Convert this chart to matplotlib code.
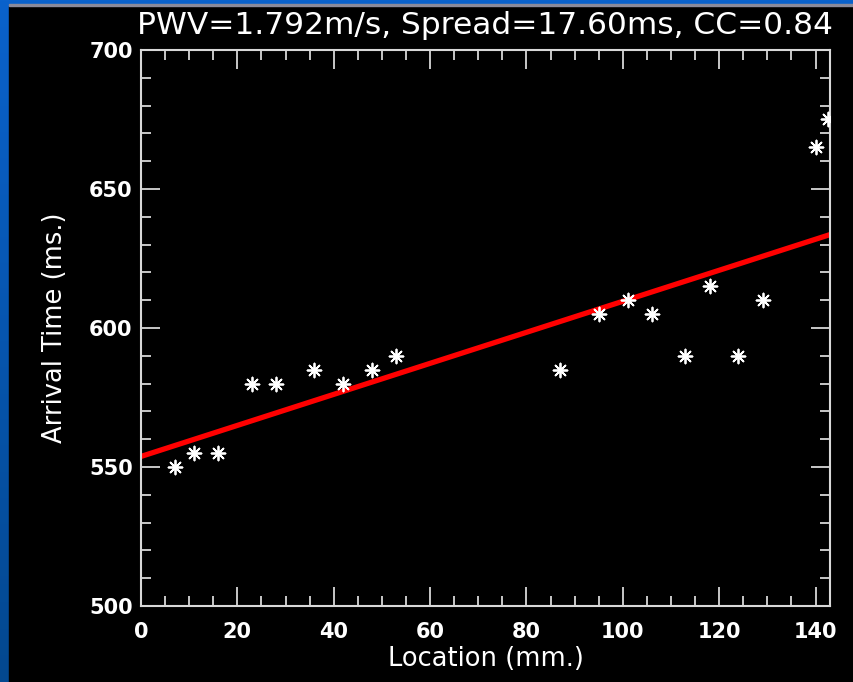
import numpy as np
import matplotlib
matplotlib.use("Agg")
import matplotlib.pyplot as plt
from matplotlib.patches import Rectangle
from matplotlib.ticker import MultipleLocator
from matplotlib.colors import LinearSegmentedColormap

# Data
location_mm = [7, 11, 16, 23, 28, 36, 42, 48, 53, 87, 95, 101, 106, 113, 118, 124, 129, 140, 142.5]
arrival_ms = [550, 555, 555, 580, 580, 585, 580, 585, 590, 585, 605, 610, 605, 590, 615, 590, 610, 665, 675]
fit_x = [0, 143]
fit_y = [553.8, 633.6]
title_text = "PWV=1.792m/s, Spread=17.60ms, CC=0.84"
xlabel_text = "Location (mm.)"
ylabel_text = "Arrival Time (ms.)"

W, H = 854, 682
fig = plt.figure(figsize=(W / 100, H / 100), dpi=100)
fig.patch.set_facecolor("#0a58b8")

# background gradient (slide) + black panel
bg = fig.add_axes([0, 0, 1, 1], zorder=-10)
grad = np.linspace(0, 1, 256).reshape(-1, 1)
cmap = LinearSegmentedColormap.from_list("b", ["#0a62cc", "#034890"])
bg.imshow(grad, aspect="auto", cmap=cmap, extent=[0, 1, 0, 1], origin="upper")
bg.add_patch(Rectangle((9 / W, 0), 1, 1 - 6 / H, color="black", transform=bg.transAxes))
bg.add_patch(Rectangle((9 / W, 1 - 6 / H), 1, 2 / H, color="#8a8a9a", transform=bg.transAxes))
bg.set_axis_off()

left, right, top, bottom = 141, 830, 50, 606
ax = fig.add_axes([left / W, 1 - bottom / H, (right - left) / W, (bottom - top) / H])
ax.set_facecolor("black")

ax.plot(fit_x, fit_y, color="#ff0000", lw=3.8, solid_capstyle="butt", zorder=2, clip_on=True)
ax.scatter(location_mm, arrival_ms, marker=(8, 2, 0), s=100, color="white", linewidths=1.3, zorder=3, clip_on=True)

ax.set_xlim(0, 143)
ax.set_ylim(500, 700)
ax.xaxis.set_major_locator(MultipleLocator(20))
ax.xaxis.set_minor_locator(MultipleLocator(5))
ax.yaxis.set_major_locator(MultipleLocator(50))
ax.yaxis.set_minor_locator(MultipleLocator(10))
ax.tick_params(which="both", direction="in", top=True, right=True, colors="#d8d8d8")
ax.tick_params(which="major", length=14, width=1.3, labelsize=15, labelcolor="white")
ax.tick_params(axis="x", which="major", pad=11.5)
ax.tick_params(axis="y", which="major", pad=6)
ax.tick_params(which="minor", length=7, width=1.3)
for lab in ax.get_xticklabels() + ax.get_yticklabels():
    lab.set_fontweight("bold")
for s in ax.spines.values():
    s.set_color("#d8d8d8")
    s.set_linewidth(1.5)

ax.set_xlabel(xlabel_text, color="white", fontsize=18.5)
ax.set_ylabel(ylabel_text, color="white", fontsize=18.5)
ax.xaxis.set_label_coords(0.5, (bottom - 646) / (bottom - top))
ax.yaxis.set_label_coords((68 - left) / (right - left), 0.5)
fig.text(833 / W, 1 - 25 / H, title_text, color="white", fontsize=22.5, ha="right", va="center")

fig.savefig("out.png", dpi=100, facecolor=fig.get_facecolor())
